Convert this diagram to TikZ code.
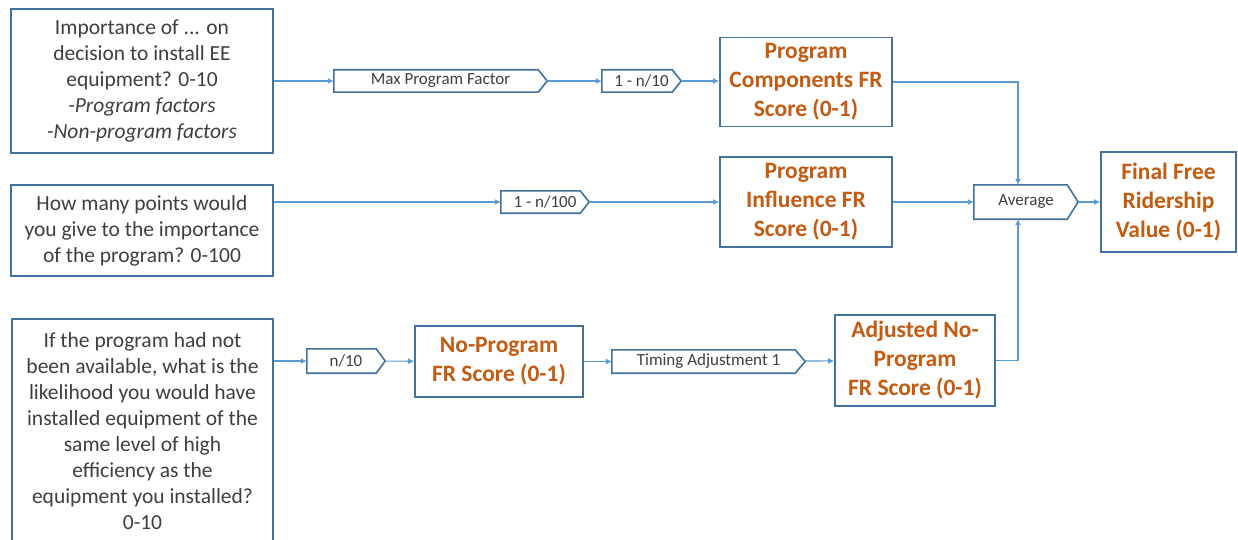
\documentclass[tikz,border=0pt]{standalone}
\usepackage{fontspec}
\setmainfont{Carlito}
\usetikzlibrary{arrows.meta,calc}
\definecolor{boxblue}{HTML}{41719C}
\definecolor{lineblue}{HTML}{5B9BD5}
\definecolor{orangetxt}{HTML}{C55A11}
\definecolor{txtgray}{HTML}{3F3F3F}
\begin{document}
\begin{tikzpicture}[x=1pt,y=-1pt,
  qbox/.style={draw=boxblue,line width=1.8pt,inner sep=0pt,align=center,text=txtgray,font=\fontsize{21.5}{26}\selectfont},
  obox/.style={draw=boxblue,line width=1.8pt,inner sep=0pt,align=center,text=orangetxt,font=\fontsize{23.5}{29}\selectfont\bfseries},
  tagnode/.style={inner sep=0pt,text=txtgray,font=\fontsize{17}{20}\selectfont},
  tagline/.style={draw=boxblue,line width=1.6pt,line join=miter},
  conn/.style={draw=lineblue,line width=1.1pt,-{Latex[length=6pt,width=6pt]}},
]
\useasboundingbox (0,0) rectangle (1238,540);
\fill[white] (0,0) rectangle (1238,540);
\clip (0,0) rectangle (1238,540);

% question boxes
\node[qbox,minimum width=262pt,minimum height=144pt] (A) at (142,81)
  {Importance of ... on\\decision to install EE\\equipment? 0-10\\\textit{-Program factors}\\\textit{-Non-program factors}};
\node[qbox,minimum width=262pt,minimum height=91pt] (B) at (142,230.5)
  {How many points would\\you give to the importance\\of the program? 0-100};
\node[qbox,minimum width=261pt,minimum height=224pt] (C) at (142.5,431)
  {If the program had not\\been available, what is the\\likelihood you would have\\installed equipment of the\\same level of high\\efficiency as the\\equipment you installed?\\0-10};

% orange result boxes
\node[obox,minimum width=172pt,minimum height=89pt] (PC) at (806,82)
  {Program\\Components FR\\Score (0-1)};
\node[obox,minimum width=172pt,minimum height=90pt] (PI) at (806,202)
  {Program\\Influence FR\\Score (0-1)};
\node[obox,minimum width=135pt,minimum height=100pt] (Final) at (1168.5,202)
  {Final Free\\Ridership\\Value (0-1)};
\node[obox,minimum width=168pt,minimum height=71pt] (NP) at (499,361.5)
  {No-Program\\FR Score (0-1)};
\node[obox,minimum width=160pt,minimum height=91pt] (Adj) at (915,360.5)
  {Adjusted No-\\Program\\FR Score (0-1)};

% tag nodes
\node[tagnode,minimum width=213pt,minimum height=22pt] (MPF) at (440.5,81) {Max Program Factor};
\node[tagnode,minimum width=79pt,minimum height=22pt] (T10) at (641.5,81) {1 - n/10};
\node[tagnode,minimum width=88pt,minimum height=22pt] (T100) at (545,202) {1 - n/100};
\node[tagnode,minimum width=104pt,minimum height=34pt] (Avg) at (1026,202) {Average};
\node[tagnode,minimum width=78pt,minimum height=24pt] (N10) at (346,361) {n/10};
\node[tagnode,minimum width=193pt,minimum height=23pt] (Tim) at (708.5,361.5) {Timing Adjustment 1};

\foreach \n/\d in {MPF/9pt,T10/9pt,T100/9pt,Avg/11pt,N10/9pt,Tim/10pt}
  \draw[tagline] (\n.north west) -- ([xshift=-\d]\n.north east) -- (\n.east)
     -- ([xshift=-\d]\n.south east) -- (\n.south west) -- cycle;

% connectors
\draw[conn] (A) -- (MPF);
\draw[conn] (MPF) -- (T10);
\draw[conn] (T10) -- (PC.west |- T10);
\draw[conn] (B.east |- T100) -- (T100);
\draw[conn] (T100) -- (PI);
\draw[conn] (PI) -- (Avg);
\draw[conn] (Avg) -- (Final);
\draw[conn] (PC.east) -| ([xshift=-8pt]Avg.north);
\draw[conn] (Adj.east) -| ([xshift=-8pt]Avg.south);
\draw[conn] (C.east |- N10) -- (N10);
\draw[conn] (N10) -- (NP);
\draw[conn] (NP) -- (Tim);
\draw[conn] (Tim) -- (Adj);
\end{tikzpicture}
\end{document}
